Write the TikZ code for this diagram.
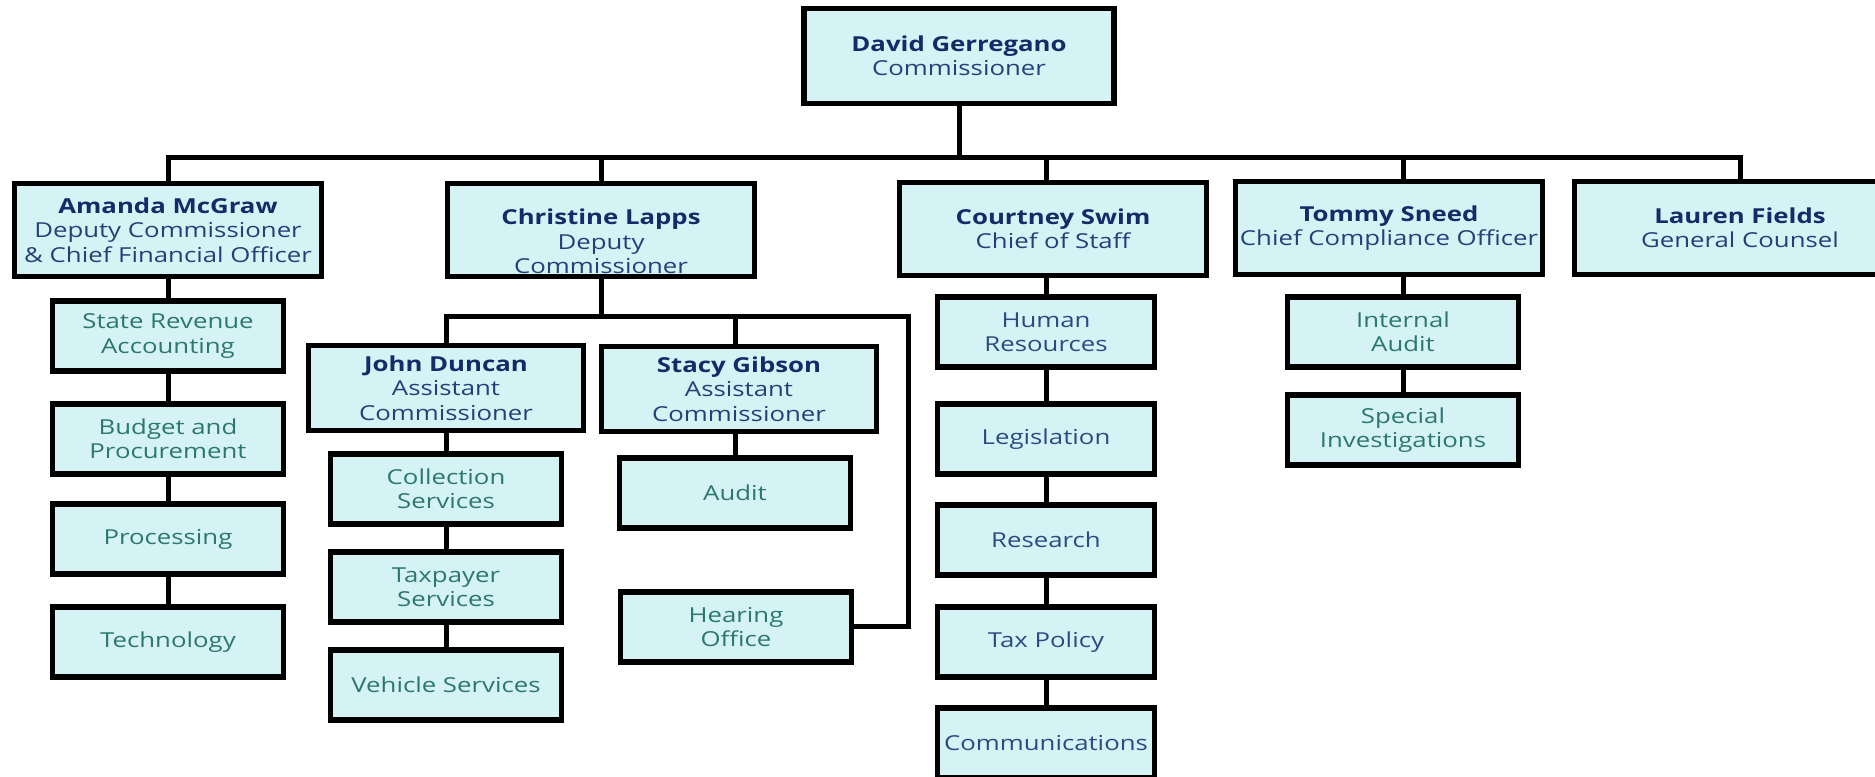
\documentclass[tikz,border=0pt]{standalone}
\usepackage{fontspec}
\setmainfont{Open Sans}[FakeStretch=1.25]
\usetikzlibrary{backgrounds}

\definecolor{boxfill}{HTML}{D5F3F5}
\definecolor{namecol}{HTML}{142B69}
\definecolor{titlecol}{HTML}{24407A}
\definecolor{unitteal}{HTML}{2C7772}
\definecolor{unitnavy}{HTML}{2B4A85}

\newcommand{\who}[1]{{\bfseries\color{namecol}#1}}

\begin{document}
\begin{tikzpicture}[x=0.4pt, y=-0.4pt,
  box/.style={draw, line width=2.1pt, fill=boxfill, align=center, inner sep=0pt,
    font=\fontsize{8.25}{9.8}\selectfont, text=titlecol},
  head/.style={box, minimum width=123pt, minimum height=37pt},
  asst/.style={box, minimum width=110pt, minimum height=34pt},
  unit/.style={box, text=unitteal, minimum width=92.5pt, minimum height=28pt},
  staffunit/.style={box, text=unitnavy, minimum width=87pt, minimum height=28pt},
  link/.style={line width=2pt}]

\useasboundingbox (0,0) rectangle (1875,777);

% top
\node[head, minimum width=124pt, minimum height=38pt] (david) at (959,56)
  {\who{David Gerregano}\\Commissioner};

% second row
\node[head] (amanda) at (168,230)
  {\who{Amanda McGraw}\\Deputy Commissioner\\\& Chief Financial Officer};
\node[head, label={[align=center, text=titlecol, font=\fontsize{8.25}{9.8}\selectfont,
    yshift=-4.6pt]center:\who{Christine Lapps}\\Deputy\\Commissioner}]
  (christine) at (601,230) {};
\node[head] (courtney) at (1053,229)
  {\who{Courtney Swim}\\Chief of Staff};
\node[head] (tommy) at (1389,228)
  {\who{Tommy Sneed}\\Chief Compliance Officer};
\node[head, minimum width=132.5pt] (lauren) at (1740,228)
  {\who{Lauren Fields}\\General Counsel};

% Amanda McGraw
\node[unit] (sra) at (168,336) {State Revenue\\Accounting};
\node[unit] (budget) at (168,439) {Budget and\\Procurement};
\node[unit] (processing) at (168,539) {Processing};
\node[unit] (technology) at (168,642) {Technology};

% Christine Lapps
\node[asst] (john) at (446,388) {\who{John Duncan}\\Assistant\\Commissioner};
\node[asst] (stacy) at (739,389) {\who{Stacy Gibson}\\Assistant\\Commissioner};
\node[unit] (collection) at (446,489) {Collection\\Services};
\node[unit] (taxpayer) at (446,587) {Taxpayer\\Services};
\node[unit] (vehicle) at (446,685) {Vehicle Services};
\node[unit] (audit) at (735,493) {Audit};
\node[unit] (hearing) at (736,627) {Hearing\\Office};

% Courtney Swim
\node[staffunit] (hr) at (1046,332) {Human\\Resources};
\node[staffunit] (legislation) at (1046,439) {Legislation};
\node[staffunit] (research) at (1046,540) {Research};
\node[staffunit] (taxpolicy) at (1046,642) {Tax Policy};
\node[staffunit] (comm) at (1046,743) {Communications};

% Tommy Sneed
\node[unit] (internal) at (1403,332) {Internal\\Audit};
\node[unit] (special) at (1403,430) {Special\\Investigations};

\coordinate (bus) at (0,158);
\coordinate (cbus) at (0,317);
\coordinate (cright) at (908,0);

\begin{scope}[on background layer]
\draw[link] (david) -- (david |- bus);
\draw[link] (technology) -- (technology |- bus) -- (lauren |- bus) -- (lauren);
\draw[link] (christine |- bus) -- (christine |- cbus);
\draw[link] (vehicle) -- (vehicle |- cbus) -| (cright |- hearing) -- (hearing);
\draw[link] (audit) -- (audit |- cbus);
\draw[link] (comm) -- (comm |- bus);
\draw[link] (special) -- (special |- bus);
\end{scope}

\end{tikzpicture}
\end{document}
